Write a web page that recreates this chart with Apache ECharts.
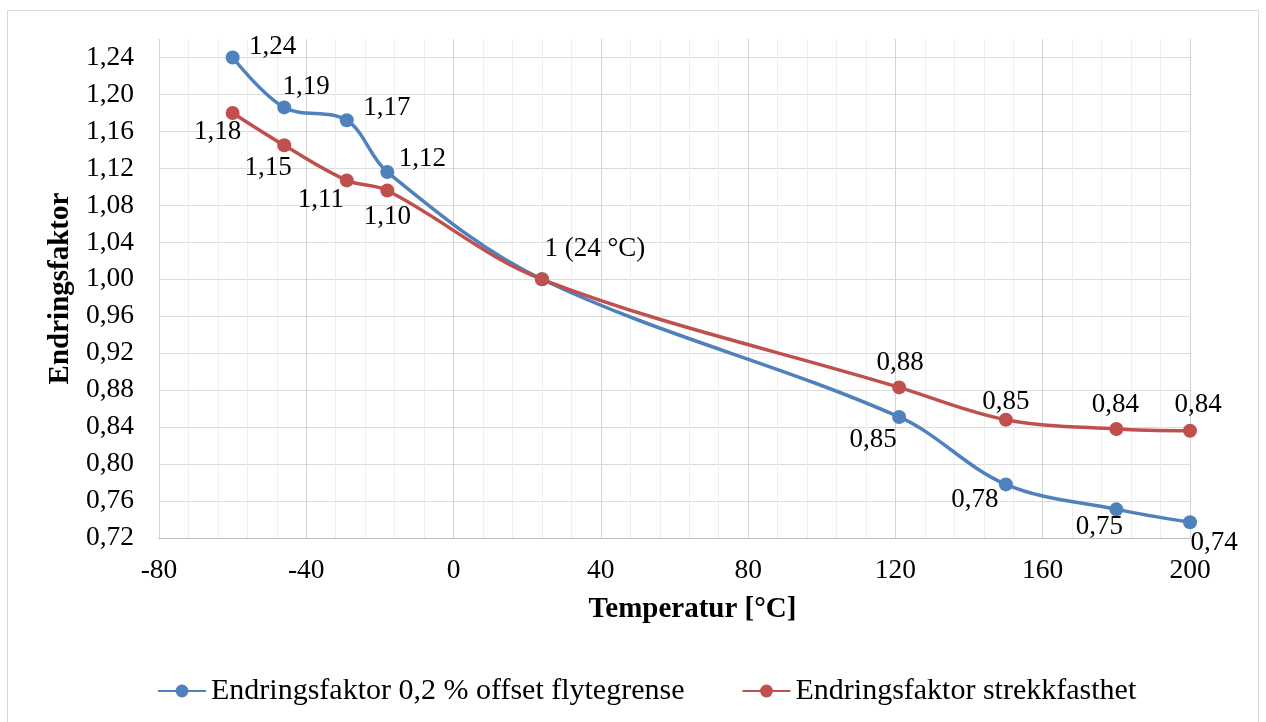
<!DOCTYPE html>
<html>
<head>
<meta charset="utf-8">
<script src="https://cdn.jsdelivr.net/npm/echarts@6/dist/echarts.min.js"></script>
<style>
    html, body { margin: 0; padding: 0; background: #fff; }
    #chart { width: 1266px; height: 722px; }
</style>
</head>
<body>
<div id="chart"></div>
<script>
// Data
const temperatures = [-60, -46, -29, -18, 24, 121, 150, 180, 200];
const yieldFactor = [1.24, 1.186, 1.172, 1.116, 1.0, 0.851, 0.778, 0.751, 0.737];
const tensileFactor = [1.18, 1.145, 1.107, 1.096, 1.0, 0.883, 0.848, 0.838, 0.836];
const yieldLabels = ['1,24', '1,19', '1,17', '1,12', '1 (24 °C)', '0,85', '0,78', '0,75', '0,74'];
const tensileLabels = ['1,18', '1,15', '1,11', '1,10', '', '0,88', '0,85', '0,84', '0,84'];
const seriesNames = ['Endringsfaktor 0,2 % offset flytegrense', 'Endringsfaktor strekkfasthet'];

// label offsets (label centre relative to marker)
const yieldOffsets = [[40, -11], [22, -20], [40, -12], [35, -13], [53, -30], [-26, 23], [-31, 16], [-17, 18], [24, 21]];
const tensileOffsets = [[-15, 19], [-16, 23], [-26, 20], [0, 26], [0, 0], [1, -24], [0, -18], [-1, -24], [8, -26]];

const FONT = '"Liberation Serif", "Times New Roman", serif';
const fmt = v => v.toFixed(2).replace('.', ',');

function buildData(values, labels, offsets) {
    return values.map((v, i) => ({
        value: [temperatures[i], v],
        label: {
            show: labels[i] !== '',
            formatter: labels[i],
            position: 'inside',
            offset: offsets[i],
            color: '#000',
            fontFamily: FONT,
            fontSize: 27
        }
    }));
}

const chart = echarts.init(document.getElementById('chart'));

const option = {
    animation: false,
    backgroundColor: '#fff',
    textStyle: { fontFamily: FONT },
    graphic: [{
        type: 'rect',
        shape: { x: 7.5, y: 10.5, width: 1251, height: 740 },
        style: { fill: 'none', stroke: '#d9d9d9', lineWidth: 1 },
        silent: true
    }],
    grid: { left: 159, right: 76, top: 39, bottom: 184 },
    xAxis: {
        type: 'value',
        min: -80,
        max: 200,
        interval: 40,
        name: 'Temperatur [°C]',
        nameLocation: 'middle',
        nameGap: 57,
        nameTextStyle: {
            fontFamily: FONT, fontSize: 29, fontWeight: 'bold', color: '#000',
            padding: [0, 0, 0, 36]
        },
        axisLine: { lineStyle: { color: '#bfbfbf', width: 1 } },
        axisTick: { show: false },
        axisLabel: { fontFamily: FONT, fontSize: 27.5, color: '#000', margin: 19 },
        splitLine: { show: true, lineStyle: { color: '#d4d4d4', width: 1 } },
        minorTick: { show: false, splitNumber: 5 },
        minorSplitLine: { show: true, lineStyle: { color: '#eeeeee', width: 1 } }
    },
    yAxis: {
        type: 'value',
        min: 0.72,
        max: 1.26,
        interval: 0.04,
        name: 'Endringsfaktor',
        nameLocation: 'middle',
        nameGap: 84,
        nameTextStyle: { fontFamily: FONT, fontSize: 29, fontWeight: 'bold', color: '#000' },
        axisLine: { show: false },
        axisTick: { show: false },
        axisLabel: {
            fontFamily: FONT, fontSize: 27.5, color: '#000', margin: 25,
            showMaxLabel: false,
            formatter: fmt
        },
        splitLine: { show: true, showMaxLine: false, lineStyle: { color: '#dcdcdc', width: 1 } }
    },
    legend: {
        top: 671,
        left: 152,
        itemWidth: 48,
        itemHeight: 16,
        itemGap: 57,
        textStyle: { fontFamily: FONT, fontSize: 30, color: '#000' },
        data: seriesNames
    },
    series: [
        {
            name: seriesNames[0],
            type: 'line',
            smooth: 0.35,
            symbol: 'circle',
            symbolSize: 14,
            lineStyle: { width: 3.5, color: '#4f81bd' },
            itemStyle: { color: '#4f81bd' },
            data: buildData(yieldFactor, yieldLabels, yieldOffsets)
        },
        {
            name: seriesNames[1],
            type: 'line',
            smooth: 0.35,
            symbol: 'circle',
            symbolSize: 14,
            lineStyle: { width: 3.5, color: '#c0504d' },
            itemStyle: { color: '#c0504d' },
            data: buildData(tensileFactor, tensileLabels, tensileOffsets)
        }
    ]
};

chart.setOption(option);
</script>
</body>
</html>
